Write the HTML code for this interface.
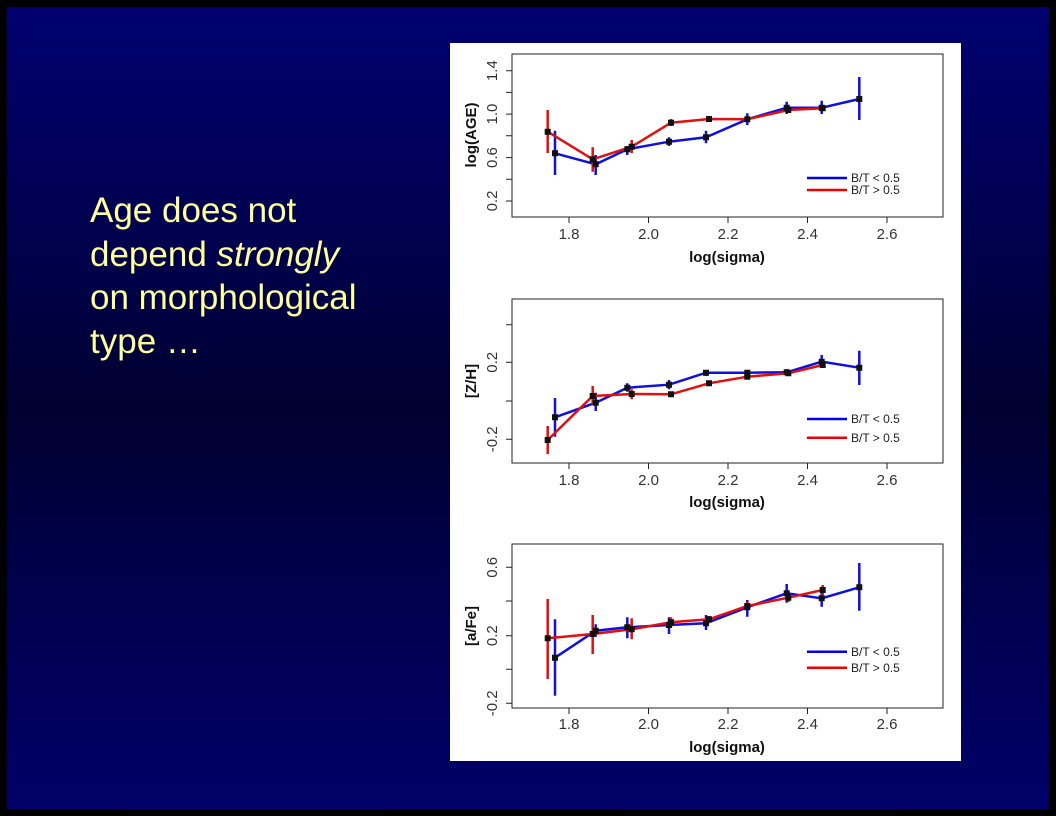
<!DOCTYPE html>
<html><head><meta charset="utf-8"><style>
html,body{margin:0;padding:0;background:#000}
#s{position:absolute;left:0;top:0;width:1056px;height:816px;background:#000}
#bg{position:absolute;left:7px;top:7px;width:1042px;height:802px;background:linear-gradient(#000070 0%,#000048 33%,#000030 50%,#00004a 70%,#000068 100%)}
#t{position:absolute;left:90px;top:189px;color:#ffff99;font:35px "Liberation Sans",sans-serif;line-height:43.5px}
svg{position:absolute;left:0;top:0}
</style></head><body><div id="s"><div id="bg"></div>
<div id="t">Age does not<br>depend <i>strongly</i><br>on morphological<br>type …</div>
<svg width="1056" height="816" font-family="Liberation Sans, sans-serif">
<rect x="450" y="43" width="511" height="718" fill="#fff"/>
<g stroke="#222" fill="none" stroke-width="1">
<rect x="512" y="54" width="431" height="163"/>
<rect x="512" y="299" width="431" height="164"/>
<rect x="512" y="544" width="431" height="164"/>
<path d="M569 217v6M648.5 217v6M728 217v6M807.5 217v6M887 217v6M569 463v6M648.5 463v6M728 463v6M807.5 463v6M887 463v6M569 708v6M648.5 708v6M728 708v6M807.5 708v6M887 708v6"/>
<path d="M512 201h-6M512 179.3h-6M512 157.6h-6M512 135.8h-6M512 114.1h-6M512 92.4h-6M512 70.7h-6"/>
<path d="M512 324.7h-6M512 362.3h-6M512 401h-6M512 439.3h-6"/>
<path d="M512 567.3h-6M512 601h-6M512 635.7h-6M512 669.3h-6M512 703.3h-6"/>
</g>
<g font-size="15" fill="#333" text-anchor="middle">
<text x="569" y="239">1.8</text><text x="648.5" y="239">2.0</text><text x="728" y="239">2.2</text><text x="807.5" y="239">2.4</text><text x="887" y="239">2.6</text>
<text x="569" y="485">1.8</text><text x="648.5" y="485">2.0</text><text x="728" y="485">2.2</text><text x="807.5" y="485">2.4</text><text x="887" y="485">2.6</text>
<text x="569" y="729">1.8</text><text x="648.5" y="729">2.0</text><text x="728" y="729">2.2</text><text x="807.5" y="729">2.4</text><text x="887" y="729">2.6</text>
<text transform="translate(497,201) rotate(-90)">0.2</text><text transform="translate(497,157.6) rotate(-90)">0.6</text><text transform="translate(497,114.1) rotate(-90)">1.0</text><text transform="translate(497,70.7) rotate(-90)">1.4</text>
<text transform="translate(497,362.3) rotate(-90)">0.2</text><text transform="translate(497,439.3) rotate(-90)">-0.2</text>
<text transform="translate(497,567.3) rotate(-90)">0.6</text><text transform="translate(497,635.7) rotate(-90)">0.2</text><text transform="translate(497,703.3) rotate(-90)">-0.2</text>
</g>
<g font-size="15" font-weight="bold" fill="#111" text-anchor="middle">
<text x="727" y="262">log(sigma)</text><text x="727" y="507">log(sigma)</text><text x="727" y="752">log(sigma)</text>
<text transform="translate(476,135) rotate(-90)">log(AGE)</text>
<text transform="translate(476,381) rotate(-90)">[Z/H]</text>
<text transform="translate(476,626) rotate(-90)">[a/Fe]</text>
</g>
<g font-size="12" fill="#222">
<text x="851" y="182">B/T &lt; 0.5</text><text x="851" y="194">B/T &gt; 0.5</text>
<text x="851" y="423">B/T &lt; 0.5</text><text x="851" y="442">B/T &gt; 0.5</text>
<text x="851" y="656">B/T &lt; 0.5</text><text x="851" y="672">B/T &gt; 0.5</text>
</g>
<g stroke-width="2.5" fill="none">
<path stroke="#0000ee" d="M807 178h40M807 419h40M807 651.7h40"/>
<path stroke="#ee0000" d="M807 190h40M807 437.7h40M807 667.7h40"/>
<path stroke="#1010dd" d="M555 130.7V175M595.7 155V175M627.3 146V155M669 137.3V146M706 130.7V143.3M747.3 113.3V125M786.7 101.7V114M821.7 100.7V114M859.3 77V120"/>
<polyline stroke="#1010dd" points="555,153.3 595.7,164.3 627.3,149.3 669,141.7 706,137.3 747.3,119.3 786.7,107.7 821.7,107.7 859.3,99"/>
<path stroke="#e01010" d="M547.7 110V153M592.7 147.3V171.7M631.7 140V153.3M671 119V126M709 116V122M747.3 116V122M788.3 107V113M822.7 105V111"/>
<polyline stroke="#e01010" points="547.7,131.7 592.7,159.3 631.7,146.7 671,122.7 709,119 747.3,119.3 788.3,110 822.7,108.3"/>
<path stroke="#1010dd" d="M555 398V436.7M595.7 392.7V411M627.3 383.3V391.7M669 380V389.3M706 370V376M747.3 370V376M786.7 369.3V376M821.7 355V367.3M859.3 350.7V385"/>
<polyline stroke="#1010dd" points="555,417.3 595.7,402.7 627.3,387.7 669,384.7 706,372.7 747.3,372.7 786.7,372.3 821.7,361.7 859.3,367.7"/>
<path stroke="#e01010" d="M547.7 426V454M592.7 386V405M631.7 389.3V399.3M671 392V397M709 381V386M747.3 374V379M788.3 371V376M822.7 362V368"/>
<polyline stroke="#e01010" points="547.7,440 592.7,396 631.7,394 671,394.3 709,383.3 747.3,376.7 788.3,373.3 822.7,365"/>
<path stroke="#1010dd" d="M555 619.3V695.7M595.7 624.3V636.7M627.3 617.3V638.3M669 617.3V634M706 615V630M747.3 600V616.7M786.7 584V602.7M821.7 590V606.7M859.3 563V610.7"/>
<polyline stroke="#1010dd" points="555,657.7 595.7,630.7 627.3,627.3 669,625 706,623.3 747.3,607.3 786.7,593.3 821.7,598.3 859.3,587.3"/>
<path stroke="#e01010" d="M547.7 599V679M592.7 615V654M631.7 618.3V639.3M671 617.3V627.3M709 616V623M747.3 602V610M788.3 594V602M822.7 585V595"/>
<polyline stroke="#e01010" points="547.7,638.3 592.7,634 631.7,629.3 671,622.3 709,619.3 747.3,606 788.3,597.7 822.7,590"/>
</g>
<g fill="#111">
<path d="M552 150.3h6v6h-6zM592.7 161.3h6v6h-6zM624.3 146.3h6v6h-6zM666 138.7h6v6h-6zM703 134.3h6v6h-6zM744.3 116.3h6v6h-6zM783.7 104.7h6v6h-6zM818.7 104.7h6v6h-6zM856.3 96h6v6h-6z"/>
<path d="M544.7 128.7h6v6h-6zM589.7 156.3h6v6h-6zM628.7 143.7h6v6h-6zM668 119.7h6v6h-6zM706 116h6v6h-6zM785.3 107h6v6h-6zM819.7 105.3h6v6h-6z"/>
<path d="M552 414.3h6v6h-6zM592.7 399.7h6v6h-6zM624.3 384.7h6v6h-6zM666 381.7h6v6h-6zM703 369.7h6v6h-6zM744.3 369.7h6v6h-6zM783.7 369.3h6v6h-6zM818.7 358.7h6v6h-6zM856.3 364.7h6v6h-6z"/>
<path d="M544.7 437h6v6h-6zM589.7 393h6v6h-6zM628.7 391h6v6h-6zM668 391.3h6v6h-6zM706 380.3h6v6h-6zM744.3 373.7h6v6h-6zM785.3 370.3h6v6h-6zM819.7 362h6v6h-6z"/>
<path d="M552 654.7h6v6h-6zM592.7 627.7h6v6h-6zM624.3 624.3h6v6h-6zM666 622h6v6h-6zM703 620.3h6v6h-6zM744.3 604.3h6v6h-6zM783.7 590.3h6v6h-6zM818.7 595.3h6v6h-6zM856.3 584.3h6v6h-6z"/>
<path d="M544.7 635.3h6v6h-6zM589.7 631h6v6h-6zM628.7 626.3h6v6h-6zM668 619.3h6v6h-6zM706 616.3h6v6h-6zM744.3 603h6v6h-6zM785.3 594.7h6v6h-6zM819.7 587h6v6h-6z"/>
</g>
</svg></div></body></html>
